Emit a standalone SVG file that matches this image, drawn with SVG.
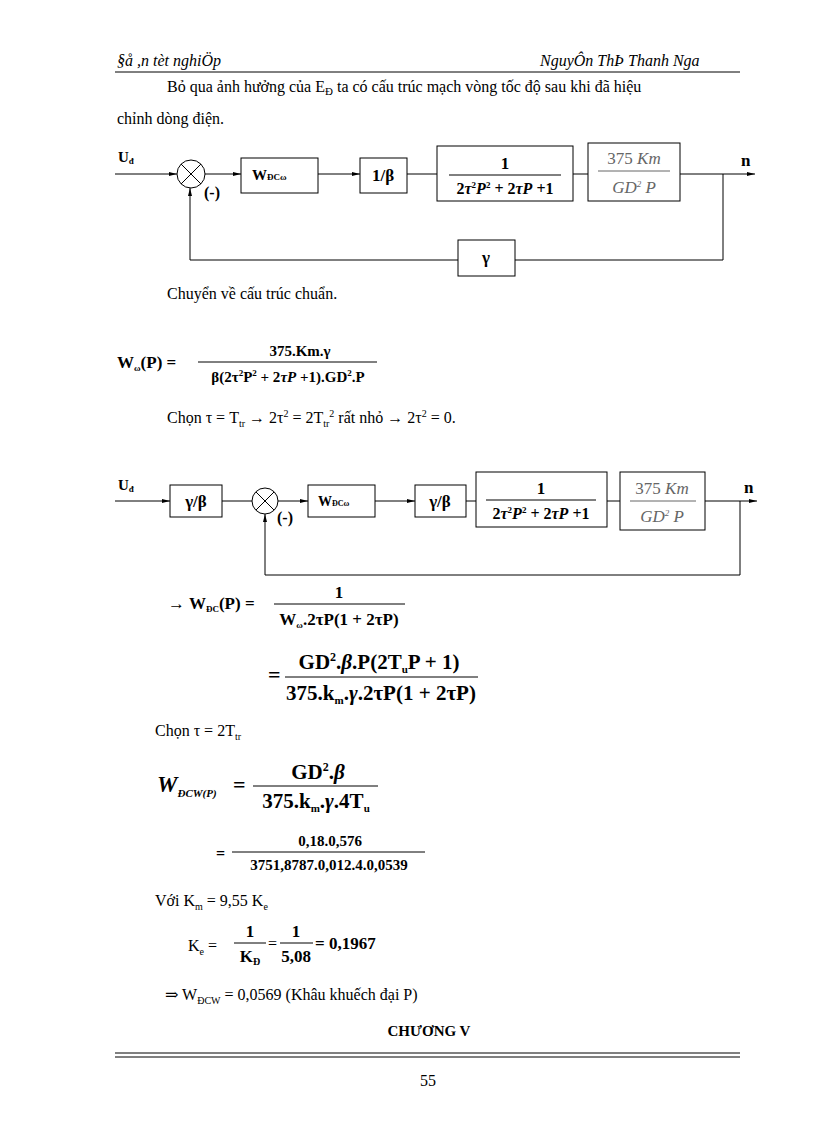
<svg xmlns="http://www.w3.org/2000/svg" width="816" height="1123" viewBox="0 0 816 1123" font-family="'Liberation Serif', 'Times New Roman', 'DejaVu Serif', serif">
<defs>
<style>
text{font-family:'Liberation Serif','Times New Roman','DejaVu Serif',serif;fill:#000}
.t{font-size:16px}
.b{font-weight:bold}
.i{font-style:italic}
.box{fill:#fff;stroke:#000;stroke-width:1}
.ln{fill:none;stroke:#000;stroke-width:1}
.g{fill:#666}
</style>
<marker id="ar" markerWidth="8" markerHeight="6" refX="8" refY="3" orient="auto" markerUnits="userSpaceOnUse"><path d="M0,1 L8,3 L0,5 Z" fill="#000"/></marker>
</defs>
<rect width="816" height="1123" fill="#fff"/>
<text x="117" y="66" class="t i">§å ,n tèt nghiÖp</text>
<text x="540" y="66" class="t i">NguyÔn ThÞ Thanh Nga</text>
<line x1="115" y1="72" x2="740" y2="72" class="ln"/>
<text x="167" y="92" class="t">Bỏ qua ảnh hưởng của E<tspan font-size="11" dy="3">Đ</tspan><tspan dy="-3"> ta có cấu trúc mạch vòng tốc độ sau khi  đã hiệu</tspan></text>
<text x="117" y="124" class="t">chỉnh dòng điện.</text>

<g id="connectors1">
<line x1="115" y1="174" x2="177" y2="174" class="ln" marker-end="url(#ar)"/>
<line x1="205" y1="174" x2="241" y2="174" class="ln" marker-end="url(#ar)"/>
<line x1="318" y1="174" x2="360" y2="174" class="ln" marker-end="url(#ar)"/>
<line x1="407" y1="174" x2="437" y2="174" class="ln"/>
<line x1="573" y1="174" x2="588" y2="174" class="ln"/>
<line x1="680" y1="174" x2="755" y2="174" class="ln" marker-end="url(#ar)"/>
<polyline points="723,174 723,260 515,260" class="ln"/>
<polyline points="458,260 190,260 190,188" class="ln" marker-end="url(#ar)"/>
</g>
<g id="sum1"><circle cx="191" cy="174" r="14" class="box"/><path d="M181,164 L201,184 M201,164 L181,184" class="ln"/></g>
<text x="118" y="162" class="b" font-size="15">U<tspan font-size="9" dy="2">đ</tspan></text>
<text x="204" y="198" class="b" font-size="16">(-)</text>
<g id="w1"><rect x="241" y="158" width="77" height="35" class="box"/><text x="252" y="180" class="b" font-size="15">W<tspan font-size="9">ĐCω</tspan></text></g>
<g id="b1"><rect x="360" y="158" width="47" height="35" class="box"/><text x="383" y="181" class="b" font-size="17" text-anchor="middle">1/β</text></g>
<g id="f1"><rect x="437" y="146" width="136" height="55" class="box"/>
<text x="505" y="169" class="b" font-size="17" text-anchor="middle">1</text>
<line x1="449" y1="175" x2="561" y2="175" class="ln"/>
<text x="505" y="194" class="b" font-size="16" text-anchor="middle">2<tspan class="i">τ</tspan><tspan font-size="9" dy="-6">2</tspan><tspan dy="6" class="i">P</tspan><tspan font-size="9" dy="-6">2</tspan><tspan dy="6"> + 2</tspan><tspan class="i">τP</tspan> +1</text></g>
<g id="m1"><rect x="588" y="143" width="92" height="58" class="box"/>
<text x="634" y="164" class="g" font-size="17" text-anchor="middle">375 <tspan class="i">Km</tspan></text>
<line x1="598" y1="171" x2="670" y2="171" stroke="#666"/>
<text x="634" y="193" class="g i" font-size="17" text-anchor="middle">GD<tspan font-size="9" dy="-6">2</tspan><tspan dy="6"> P</tspan></text></g>
<text x="741" y="166" class="b" font-size="17">n</text>
<g id="gam1"><rect x="458" y="240" width="57" height="36" class="box"/><text x="486" y="263" class="b" font-size="17" text-anchor="middle">γ</text></g>

<text x="167" y="299" class="t">Chuyển về cấu trúc chuẩn.</text>

<text x="117" y="368" class="b" font-size="17">W<tspan font-size="9" dy="3">ω</tspan><tspan dy="-3">(P) =</tspan></text>
<text x="300" y="356" class="b" font-size="15" text-anchor="middle">375.Km.γ</text>
<line x1="198" y1="362" x2="377" y2="362" class="ln"/>
<text x="288" y="382" class="b" font-size="15" text-anchor="middle">β(2τ<tspan font-size="9" dy="-6">2</tspan><tspan dy="6">P</tspan><tspan font-size="9" dy="-6">2</tspan><tspan dy="6"> + 2</tspan><tspan class="i">τP</tspan> +1).GD<tspan font-size="9" dy="-6">2</tspan><tspan dy="6">.P</tspan></text>
<text x="167" y="423" class="t">Chọn τ = T<tspan font-size="10" dy="4">tr</tspan><tspan dy="-4"> → 2τ</tspan><tspan font-size="10" dy="-6">2</tspan><tspan dy="6"> = 2T</tspan><tspan font-size="10" dy="4">tr</tspan><tspan font-size="10" dy="-10">2</tspan><tspan dy="6"> rất nhỏ → 2τ</tspan><tspan font-size="10" dy="-6">2</tspan><tspan dy="6"> = 0.</tspan></text>

<g id="connectors2">
<line x1="115" y1="501" x2="170" y2="501" class="ln" marker-end="url(#ar)"/>
<line x1="222" y1="501" x2="252" y2="501" class="ln"/>
<line x1="278" y1="501" x2="308" y2="501" class="ln" marker-end="url(#ar)"/>
<line x1="375" y1="501" x2="415" y2="501" class="ln" marker-end="url(#ar)"/>
<line x1="466" y1="501" x2="476" y2="501" class="ln"/>
<line x1="607" y1="501" x2="620" y2="501" class="ln"/>
<line x1="705" y1="501" x2="757" y2="501" class="ln" marker-end="url(#ar)"/>
<polyline points="740,501 740,575 265,575 265,514" class="ln" marker-end="url(#ar)"/>
</g>
<text x="118" y="490" class="b" font-size="15">U<tspan font-size="9" dy="2">đ</tspan></text>
<g id="gb1"><rect x="170" y="485" width="52" height="32" class="box"/><text x="196" y="507" class="b" font-size="17" text-anchor="middle">γ/β</text></g>
<g id="sum2"><circle cx="265" cy="501" r="13" class="box"/><path d="M256,492 L274,510 M274,492 L256,510" class="ln"/></g>
<text x="277" y="523" class="b" font-size="16">(-)</text>
<g id="w2"><rect x="308" y="485" width="67" height="32" class="box"/><text x="318" y="506" class="b" font-size="14">W<tspan font-size="8">ĐCω</tspan></text></g>
<g id="gb2"><rect x="415" y="485" width="51" height="32" class="box"/><text x="440" y="507" class="b" font-size="17" text-anchor="middle">γ/β</text></g>
<g id="f2"><rect x="476" y="472" width="131" height="55" class="box"/>
<text x="541" y="494" class="b" font-size="17" text-anchor="middle">1</text>
<line x1="486" y1="500" x2="596" y2="500" class="ln"/>
<text x="541" y="519" class="b" font-size="16" text-anchor="middle">2<tspan class="i">τ</tspan><tspan font-size="9" dy="-6">2</tspan><tspan dy="6" class="i">P</tspan><tspan font-size="9" dy="-6">2</tspan><tspan dy="6"> + 2</tspan><tspan class="i">τP</tspan> +1</text></g>
<g id="m2"><rect x="620" y="472" width="85" height="58" class="box"/>
<text x="662" y="494" class="g" font-size="17" text-anchor="middle">375 <tspan class="i">Km</tspan></text>
<line x1="630" y1="501" x2="696" y2="501" stroke="#666"/>
<text x="662" y="522" class="g i" font-size="17" text-anchor="middle">GD<tspan font-size="9" dy="-6">2</tspan><tspan dy="6"> P</tspan></text></g>
<text x="744" y="493" class="b" font-size="17">n</text>

<text x="168" y="609" class="b" font-size="17">→ W<tspan font-size="9" dy="3">ĐC</tspan><tspan dy="-3">(P) =</tspan></text>
<text x="339" y="598" class="b" font-size="17" text-anchor="middle">1</text>
<line x1="274" y1="604" x2="405" y2="604" class="ln"/>
<text x="339" y="625" class="b" font-size="17" text-anchor="middle">W<tspan font-size="9" dy="3">ω</tspan><tspan dy="-3">.2τP(1 + 2τP)</tspan></text>
<text x="268" y="682" class="b" font-size="22">=</text>
<text x="379" y="669" class="b" font-size="21" text-anchor="middle">GD<tspan font-size="12" dy="-8">2</tspan><tspan dy="8">.</tspan><tspan class="i">β</tspan>.P(2T<tspan font-size="11" dy="4">u</tspan><tspan dy="-4">P + 1)</tspan></text>
<line x1="285" y1="677" x2="478" y2="677" class="ln"/>
<text x="381" y="700" class="b" font-size="21" text-anchor="middle">375.k<tspan font-size="11" dy="4">m</tspan><tspan dy="-4">.</tspan><tspan class="i">γ</tspan>.2τP(1 + 2τP)</text>

<text x="155" y="736" class="t">Chọn τ = 2T<tspan font-size="10" dy="4">tr</tspan></text>

<text x="157" y="792" class="b i" font-size="23">W<tspan font-size="11" dy="5">ĐCW(P)</tspan></text>
<text x="233" y="792" class="b" font-size="22">=</text>
<text x="318" y="779" class="b" font-size="21" text-anchor="middle">GD<tspan font-size="12" dy="-8">2</tspan><tspan dy="8">.</tspan><tspan class="i">β</tspan></text>
<line x1="253" y1="786" x2="378" y2="786" class="ln"/>
<text x="316" y="808" class="b" font-size="21" text-anchor="middle">375.k<tspan font-size="11" dy="4">m</tspan><tspan dy="-4">.</tspan><tspan class="i">γ</tspan>.4T<tspan font-size="11" dy="4">u</tspan></text>
<text x="216" y="859" class="b" font-size="16">=</text>
<text x="330" y="846" class="b" font-size="15" text-anchor="middle">0,18.0,576</text>
<line x1="232" y1="852" x2="425" y2="852" class="ln"/>
<text x="329" y="870" class="b" font-size="15" text-anchor="middle">3751,8787.0,012.4.0,0539</text>

<text x="155" y="906" class="t">Với K<tspan font-size="10" dy="4">m</tspan><tspan dy="-4"> = 9,55  K</tspan><tspan font-size="10" dy="4">e</tspan></text>
<text x="188" y="951" class="t">K<tspan font-size="10" dy="4">e</tspan><tspan dy="-4"> =</tspan></text>
<text x="250" y="937" class="b" font-size="17" text-anchor="middle">1</text>
<line x1="234" y1="943" x2="266" y2="943" class="ln"/>
<text x="250" y="962" class="b" font-size="17" text-anchor="middle">K<tspan font-size="10" dy="3">Đ</tspan></text>
<text x="268" y="949" class="t">=</text>
<text x="296" y="937" class="b" font-size="17" text-anchor="middle">1</text>
<line x1="280" y1="943" x2="313" y2="943" class="ln"/>
<text x="296" y="962" class="b" font-size="17" text-anchor="middle">5,08</text>
<text x="315" y="949" class="b" font-size="17">= 0,1967</text>
<text x="165" y="1000" class="t">⇒ W<tspan font-size="10" dy="4">ĐCW</tspan><tspan dy="-4"> = 0,0569 (Khâu khuếch đại P)</tspan></text>
<text x="429" y="1036" class="b" font-size="15" text-anchor="middle">CHƯƠNG V</text>

<line x1="115" y1="1053" x2="740" y2="1053" class="ln"/>
<line x1="115" y1="1057" x2="740" y2="1057" class="ln" stroke-width="2"/>
<text x="428" y="1086" class="t" text-anchor="middle">55</text>
</svg>
